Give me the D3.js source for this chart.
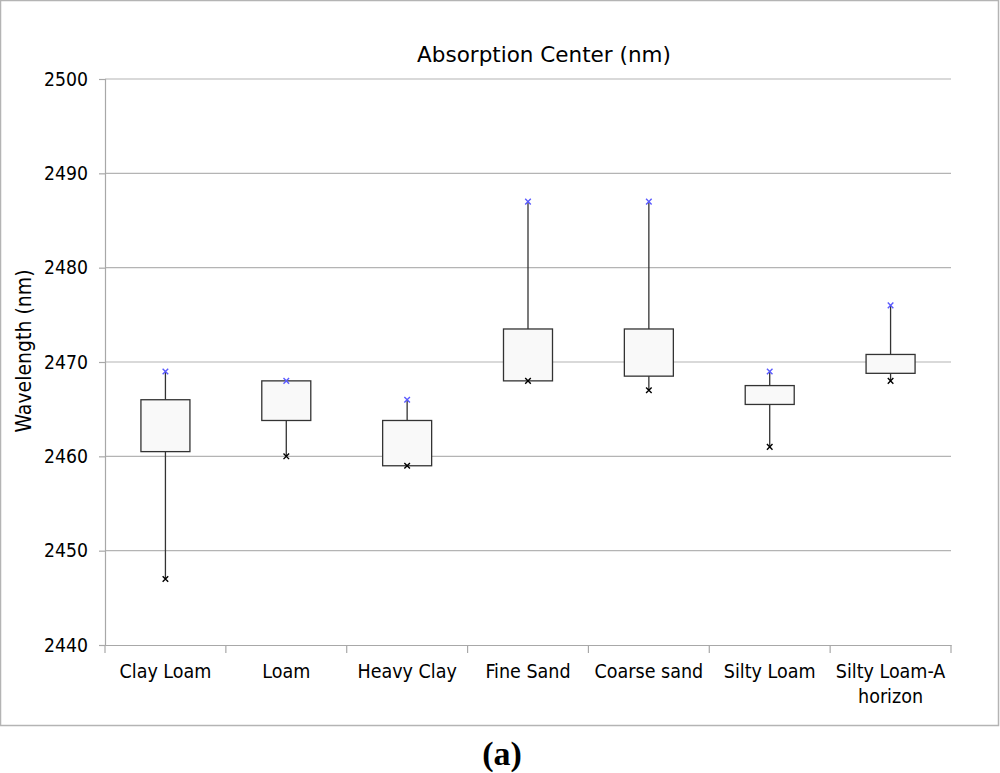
<!DOCTYPE html>
<html>
<head>
<meta charset="utf-8">
<script src="https://cdn.jsdelivr.net/npm/d3@7"></script>
<style>
  body { margin: 0; background: #fff; }
  text { font-family: "DejaVu Sans Condensed", "DejaVu Sans", sans-serif; }
</style>
</head>
<body>
<svg id="chart" width="1000" height="773"></svg>
<script>
const categories = ["Clay Loam", "Loam", "Heavy Clay", "Fine Sand", "Coarse sand", "Silty Loam", "Silty Loam-A horizon"];
const maxValues = [2469, 2468, 2466, 2487, 2487, 2469, 2476];
const q3Values  = [2466, 2468, 2463.8, 2473.5, 2473.5, 2467.5, 2470.8];
const q1Values  = [2460.5, 2463.8, 2459, 2468, 2468.5, 2465.5, 2468.8];
const minValues = [2447, 2460, 2459, 2468, 2467, 2461, 2468];
const yTicks = [2440, 2450, 2460, 2470, 2480, 2490, 2500];

const svg = d3.select("#chart");
const margin = {left: 105, right: 49, top: 79, bottom: 128};
const width = 1000, height = 773;

// outer frame
svg.append("rect")
    .attr("x", 0.5).attr("y", 0.5)
    .attr("width", 998).attr("height", 725)
    .attr("fill", "none")
    .attr("stroke", "#b4b4b4")
    .attr("stroke-width", 1.5);

const x = d3.scaleBand()
    .domain(categories)
    .range([margin.left, width - margin.right]);

const y = d3.scaleLinear()
    .domain([2440, 2500])
    .range([645, margin.top]);

// gridlines
svg.append("g")
    .selectAll("line")
    .data(yTicks.filter(d => d > 2440))
    .join("line")
    .attr("x1", margin.left).attr("x2", width - margin.right)
    .attr("y1", d => y(d)).attr("y2", d => y(d))
    .attr("stroke", "#b4b4b4").attr("stroke-width", 1.2);

// y axis
const yAxis = svg.append("g")
    .attr("transform", `translate(${margin.left},0)`)
    .call(d3.axisLeft(y).tickValues(yTicks).tickSize(6).tickPadding(11).tickFormat(d3.format("d")));
yAxis.selectAll("path, line").attr("stroke", "#a8a8a8").attr("stroke-width", 1.2);
yAxis.selectAll("text").attr("font-size", 19.2).attr("fill", "#000")
    .style("font-family", "DejaVu Sans Condensed, DejaVu Sans, sans-serif");

// x axis with ticks at category boundaries
const xAxis = svg.append("g")
    .attr("transform", `translate(0,${y(2440)})`)
    .call(d3.axisBottom(x).tickSize(0).tickFormat(""));
xAxis.select("path").attr("stroke", "#a8a8a8").attr("stroke-width", 1.2);

const boundaries = categories.map(c => x(c)).concat([x.range()[1]]);
svg.append("g").selectAll("line")
    .data(boundaries)
    .join("line")
    .attr("x1", d => d).attr("x2", d => d)
    .attr("y1", y(2440)).attr("y2", y(2440) + 8)
    .attr("stroke", "#a8a8a8").attr("stroke-width", 1.2);

// category labels
const catCenter = c => x(c) + x.bandwidth() / 2;
const labelG = svg.append("g");
categories.forEach(c => {
  const lines = c === "Silty Loam-A horizon" ? ["Silty Loam-A", "horizon"] : [c];
  const t = labelG.append("text")
      .attr("x", catCenter(c))
      .attr("y", 678)
      .attr("text-anchor", "middle")
      .attr("font-size", 19.5)
      .attr("fill", "#000");
  lines.forEach((l, j) => {
    t.append("tspan").attr("x", catCenter(c)).attr("dy", j === 0 ? 0 : 25).text(l);
  });
});

const boxW = 49;
const data = categories.map((c, i) => ({
  cat: c, max: maxValues[i], q3: q3Values[i], q1: q1Values[i], min: minValues[i]
}));

const boxes = svg.append("g");
// whiskers
boxes.selectAll("line.whisker")
    .data(data)
    .join("line")
    .attr("class", "whisker")
    .attr("x1", d => catCenter(d.cat)).attr("x2", d => catCenter(d.cat))
    .attr("y1", d => y(d.max)).attr("y2", d => y(d.min))
    .attr("stroke", "#333").attr("stroke-width", 1.3);

// boxes
boxes.selectAll("rect")
    .data(data)
    .join("rect")
    .attr("x", d => catCenter(d.cat) - boxW / 2)
    .attr("y", d => y(d.q3))
    .attr("width", boxW)
    .attr("height", d => y(d.q1) - y(d.q3))
    .attr("fill", "#f9f9f9")
    .attr("stroke", "#333")
    .attr("stroke-width", 1.3);

// markers
const cross = d3.symbol().type(d3.symbolX).size(22);
boxes.selectAll("path.maxm")
    .data(data)
    .join("path")
    .attr("class", "maxm")
    .attr("d", cross)
    .attr("transform", d => `translate(${catCenter(d.cat)},${y(d.max)})`)
    .attr("stroke", "#5a5aff").attr("stroke-width", 1.4).attr("fill", "none");
boxes.selectAll("path.minm")
    .data(data)
    .join("path")
    .attr("class", "minm")
    .attr("d", cross)
    .attr("transform", d => `translate(${catCenter(d.cat)},${y(d.min)})`)
    .attr("stroke", "#000").attr("stroke-width", 1.4).attr("fill", "none");

// title
svg.append("text")
    .attr("x", 544).attr("y", 62)
    .attr("text-anchor", "middle")
    .attr("font-size", 21.5)
    .style("font-family", "DejaVu Sans, sans-serif")
    .text("Absorption Center (nm)");

// y label
svg.append("text")
    .attr("transform", `translate(31,351) rotate(-90)`)
    .attr("text-anchor", "middle")
    .attr("font-size", 21)
    .text("Wavelength (nm)");

// panel label
svg.append("text")
    .attr("x", 502).attr("y", 765)
    .attr("text-anchor", "middle")
    .attr("font-size", 34)
    .attr("font-weight", "bold")
    .style("font-family", "Liberation Serif, Times New Roman, serif")
    .text("(a)");
</script>
</body>
</html>
